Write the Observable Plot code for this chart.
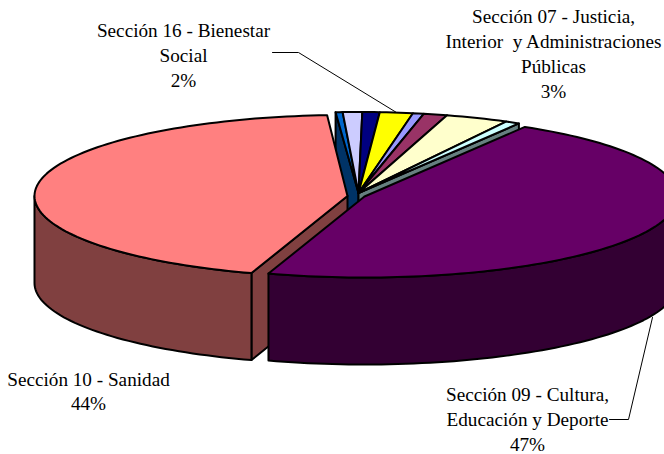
<!DOCTYPE html>
<html>
<head>
<meta charset="utf-8">
<style>html,body{margin:0;padding:0;background:#fff}svg{display:block}</style>
<script src="https://cdn.jsdelivr.net/npm/d3@7"></script>
<script src="https://cdn.jsdelivr.net/npm/@observablehq/plot@0.6"></script>
</head>
<body>
<div id="chart"></div>
<script>
// Data: share of each section, clockwise from the thin blue slice
const categories = ["Otros A","Otros B","Otros C","Sección 16","Otros D","Otros E","Sección 07","Otros F","Sección 09","Sección 10"];
const shares = [0.36,1.0,0.89,1.7,0.56,1.22,3.25,0.75,46.4,44.0];
const topColors = ["#0066CC","#CCCCFF","#000080","#FFFF00","#9999FF","#993366","#FFFFCC","#CCFFFF","#660066","#FF8080"];
const wallColors = ["#003366","#666680","#000040","#808000","#4D4D80","#4D1A33","#808066","#668080","#330033","#804040"];
const labelTexts = [
  "Sección 16 - Bienestar\nSocial\n2%",
  "Sección 07 - Justicia,\nInterior \u00a0y Administraciones\nPúblicas\n3%",
  "Sección 10 - Sanidad\n44%",
  "Sección 09 - Cultura,\nEducación y Deporte\n47%"
];

// Layout of the projected pie
const W = 664, H = 454, RX = 313, RY = 81, DEPTH = 87, START = -4.2;
const centerSmall = [358,192.5], centerSection09 = [364,196], centerSection10 = [347,195.5];
const centerOf = c => c === "Sección 09" ? centerSection09 : c === "Sección 10" ? centerSection10 : centerSmall;
const labelAnchors = [[183,53.5],[553,52],[88,389.5],[527,417.5]];
const leaders = [
  {id:"a", pts:[[272,52],[298,52],[396,112]]},
  {id:"b", pts:[[609,419],[628,419],[652,317]]}
];

let acc = START;
const slices = categories.map((c,i) => {
  const a0 = acc, a1 = acc + shares[i]*3.6; acc = a1;
  return {c, a0, a1, top:topColors[i], wall:wallColors[i], ctr:centerOf(c)};
});
const rad = Math.PI/180;
const rim = (s,a,drop=0) => [s.ctr[0]+RX*Math.sin(a*rad), s.ctr[1]-RY*Math.cos(a*rad)+drop];
const arc = (s,a0,a1,drop=0) => {
  const n = Math.max(2, Math.ceil(Math.abs(a1-a0)/1.5));
  return d3.range(n+1).map(k => rim(s,a0+(a1-a0)*k/n,drop));
};
const shapes = [];
const add = (pts,fill) => {
  const id = shapes.length ? shapes[shapes.length-1].id+1 : 0;
  [...pts,pts[0]].forEach(p => shapes.push({id,x:p[0],y:p[1],fill}));
};
const topFace = s => add([s.ctr,...arc(s,s.a0,s.a1)],s.top);
const cutFace = (s,a) => {
  const p = rim(s,a);
  add([s.ctr,p,[p[0],p[1]+DEPTH],[s.ctr[0],s.ctr[1]+DEPTH]],s.wall);
};
const outerWall = (s,a0,a1) => add([...arc(s,a0,a1),...arc(s,a1,a0,DEPTH)],s.wall);

const small = slices.slice(0,8), s09 = slices[8], s10 = slices[9];
cutFace(small[0],small[0].a0);
cutFace(small[7],small[7].a1);
small.forEach(topFace);
cutFace(s10,s10.a0);
outerWall(s10,s10.a0,270);
topFace(s10);
outerWall(s09,90,s09.a1);
topFace(s09);

const leaderRows = leaders.flatMap(l => l.pts.map(p => ({id:l.id,x:p[0],y:p[1]})));
const labelRows = labelTexts.map((t,i) => ({t,x:labelAnchors[i][0],y:labelAnchors[i][1]}));

const chart = Plot.plot({
  width:W, height:H, margin:0,
  x:{domain:[0,W],range:[0,W],axis:null},
  y:{domain:[0,H],range:[0,H],axis:null},
  color:{type:"identity"},
  marks:[
    Plot.line(leaderRows,{x:"x",y:"y",z:"id",stroke:"#000",strokeWidth:1}),
    Plot.line(shapes,{x:"x",y:"y",z:"id",fill:"fill",stroke:"#000",strokeWidth:2,strokeLinejoin:"round",curve:"linear"}),
    Plot.text(labelRows,{x:"x",y:"y",text:"t",lineHeight:1.3,fontSize:19.2,fill:"#000",fontFamily:"Liberation Serif",textAnchor:"middle",lineAnchor:"middle"})
  ]
});
chart.style.background = "#fff";
document.getElementById("chart").append(chart);
</script>
</body>
</html>
